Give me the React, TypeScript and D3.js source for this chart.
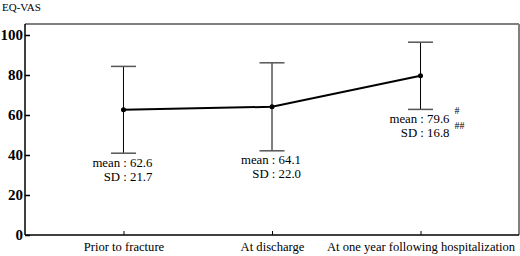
import React, { useEffect, useRef } from 'react';
import * as d3 from 'd3';

const categories = ['Prior to fracture', 'At discharge', 'At one year following hospitalization'];
const means = [62.6, 64.1, 79.6];
const sds = [21.7, 22.0, 16.8];
const marks = ['', '', '#'];
const marks2 = ['', '', '##'];
const yTicks = [0, 20, 40, 60, 80, 100];

const App = () => {
  const ref = useRef<SVGSVGElement>(null);

  useEffect(() => {
    if (!ref.current) return;
    const svg = d3.select(ref.current);
    svg.selectAll('*').remove();

    const left = 25, right = 519, top = 24, bottom = 235;
    const font = 'Liberation Serif';

    const x = d3.scalePoint<string>().domain(categories).range([left, right]).padding(0.663);
    const y = d3.scaleLinear().domain([0, 105.5]).range([bottom, top]);

    const data = categories.map((c, i) => ({ c, m: means[i], sd: sds[i], a: marks[i], b: marks2[i] }));

    // frame: top/right grey, left/bottom black
    svg.append('line').attr('x1', left).attr('x2', right).attr('y1', top).attr('y2', top)
      .attr('stroke', '#808080').attr('stroke-width', 2);
    svg.append('line').attr('x1', right).attr('x2', right).attr('y1', top).attr('y2', bottom)
      .attr('stroke', '#808080').attr('stroke-width', 2);

    // y axis
    const yAxis = svg.append('g')
      .attr('transform', `translate(${left},0)`)
      .call(d3.axisLeft(y).tickValues(yTicks).tickSize(-5).tickPadding(8).tickFormat(d3.format('d')));
    yAxis.attr('font-family', font).attr('font-size', 15).attr('font-weight', 'bold');
    yAxis.select('.domain').attr('stroke', '#000').attr('stroke-width', 1.5).attr('d', `M0,${top}V${bottom}`);
    yAxis.selectAll('.tick line').attr('stroke', '#000').attr('stroke-width', 1.5);
    yAxis.selectAll('.tick text').attr('fill', '#000').attr('x', -2);

    // x axis
    const xAxis = svg.append('g')
      .attr('transform', `translate(0,${bottom})`)
      .call(d3.axisBottom(x).tickSize(-4).tickPadding(6));
    xAxis.attr('font-family', font).attr('font-size', 12.6);
    xAxis.select('.domain').attr('stroke', '#000').attr('stroke-width', 1.5).attr('d', `M${left},0H${right}`);
    xAxis.selectAll('.tick line').attr('stroke', '#000');
    xAxis.selectAll('.tick text').attr('fill', '#000').attr('y', 7);

    // axis title
    svg.append('text').attr('x', 2).attr('y', 11)
      .attr('font-family', font).attr('font-size', 11).text('EQ-VAS');

    // error bars
    const bars = svg.append('g');
    bars.selectAll('line.v').data(data).enter().append('line')
      .attr('x1', d => x(d.c)!).attr('x2', d => x(d.c)!)
      .attr('y1', d => y(d.m + d.sd)).attr('y2', d => y(d.m - d.sd))
      .attr('stroke', '#000').attr('stroke-width', 1);
    [1, -1].forEach(s => {
      bars.selectAll(`line.cap${s}`).data(data).enter().append('line')
        .attr('x1', d => x(d.c)! - 12.5).attr('x2', d => x(d.c)! + 12.5)
        .attr('y1', d => y(d.m + s * d.sd)).attr('y2', d => y(d.m + s * d.sd))
        .attr('stroke', '#555').attr('stroke-width', 1.5);
    });

    // mean line
    const line = d3.line<typeof data[0]>().x(d => x(d.c)!).y(d => y(d.m));
    svg.append('path').datum(data).attr('d', line)
      .attr('fill', 'none').attr('stroke', '#000').attr('stroke-width', 2);
    svg.selectAll('circle.pt').data(data).enter().append('circle')
      .attr('cx', d => x(d.c)!).attr('cy', d => y(d.m)).attr('r', 2.5).attr('fill', '#000');

    // annotations
    const ann = svg.append('g').attr('font-family', font).attr('font-size', 12.8).attr('fill', '#000');
    data.forEach(d => {
      const ax = x(d.c)! + 29;
      const ay = y(d.m - d.sd) + 13.5;
      ann.append('text').attr('x', ax).attr('y', ay).attr('text-anchor', 'end')
        .text(`mean : ${d.m.toFixed(1)}`);
      ann.append('text').attr('x', ax).attr('y', ay + 14).attr('text-anchor', 'end')
        .text(`SD : ${d.sd.toFixed(1)}`);
      if (d.a) ann.append('text').attr('x', ax + 5).attr('y', ay - 8.5).attr('font-size', 10).text(d.a);
      if (d.b) ann.append('text').attr('x', ax + 5).attr('y', ay + 6).attr('font-size', 10).text(d.b);
    });
  }, []);

  return (
    <svg ref={ref} width={520} height={256}
      style={{ position: 'absolute', left: 0, top: 0, background: '#fff' }} />
  );
};

export default App;
